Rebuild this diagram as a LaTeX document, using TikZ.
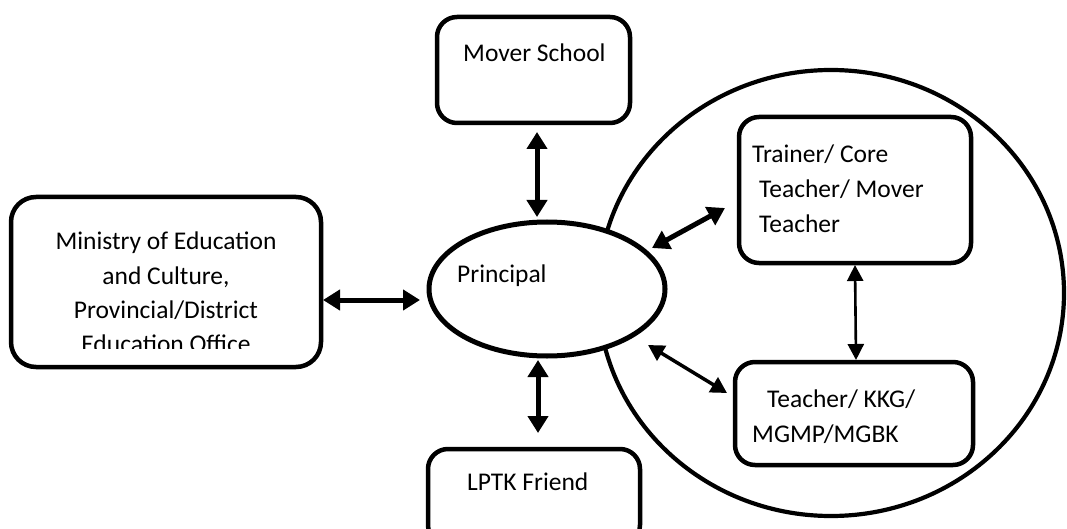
\documentclass[tikz,border=0pt]{standalone}
\usepackage{fontspec}
\setmainfont{Carlito}
\usetikzlibrary{arrows.meta,shapes.geometric}
\begin{document}
\begin{tikzpicture}[x=1pt,y=-1pt,
  box/.style={draw, line width=4.5pt, rounded corners=20pt, fill=white, inner sep=0pt, outer sep=0pt},
  oval/.style={draw, ellipse, inner sep=0pt, outer sep=0pt},
  txt/.style={inner sep=0pt, anchor=base west, font=\fontsize{25.5}{34}\selectfont},
  ctxt/.style={inner sep=0pt, anchor=base, font=\fontsize{25.5}{34}\selectfont},
  bigarr/.style={line width=5pt, {Triangle[length=17pt,width=20pt]}-{Triangle[length=17pt,width=20pt]}},
  midarr/.style={line width=3.5pt, {Triangle[length=16pt,width=17pt]}-{Triangle[length=16pt,width=17pt]}},
  thinarr/.style={line width=2.6pt, {Triangle[length=16pt,width=16pt]}-{Triangle[length=16pt,width=16pt]}}]
\useasboundingbox (0,0) rectangle (1067,529);
% group circle
\node[oval, line width=4.2pt, minimum width=466pt, minimum height=446pt] (grp) at (831,293) {};
% principal
\node[oval, line width=5pt, fill=white, minimum width=236pt, minimum height=134pt] (pr) at (547,289) {};
\node[txt] (prt) at (457,282) {Principal};
% ministry
\node[box, rounded corners=25pt, minimum width=310pt, minimum height=170pt] (min) at (166,282) {};
\begin{scope}
\clip (12,200) rectangle (320,348);
\node[ctxt] (m1) at (166,249) {Ministry of Education};
\node[ctxt] (m2) at (166,284) {and Culture,};
\node[ctxt] (m3) at (166,318) {Provincial/District};
\node[ctxt] (m4) at (166,352) {Education Office};
\end{scope}
% mover school
\node[box, minimum width=193pt, minimum height=106pt] (ms) at (533.5,70) {};
\node[txt] (mst) at (463,62) {Mover School};
% LPTK
\node[box, minimum width=212pt, minimum height=96pt] (lp) at (534,497) {};
\node[txt] (lpt) at (467,490) {LPTK Friend};
% trainer
\node[box, minimum width=232pt, minimum height=146pt] (tr) at (855,190) {};
\node[txt] (tr1) at (752,163) {Trainer/ Core};
\node[txt] (tr2) at (759,198) {Teacher/ Mover};
\node[txt] (tr3) at (759,233) {Teacher};
% teacher
\node[box, minimum width=238pt, minimum height=103pt] (te) at (854,413.5) {};
\node[txt] (te1) at (767,407) {Teacher/ KKG/};
\node[txt] (te2) at (752,442) {MGMP/MGBK};
% connectors
\draw[bigarr] ([xshift=2pt,yshift=-18pt]min.east) -- ([xshift=-9pt,yshift=-11pt]pr.west);
\draw[bigarr] ([xshift=3.5pt,yshift=-9pt]ms.south) -- ([xshift=-10pt,yshift=5pt]pr.north);
\draw[bigarr] ([xshift=-9pt,yshift=-4pt]pr.south) -- ([xshift=4pt,yshift=16pt]lp.north);
\draw[bigarr] ([xshift=105pt,yshift=41pt]pr.center) -- ([xshift=-14pt,yshift=-18pt]tr.west);
\draw[midarr] ([xshift=101pt,yshift=-56pt]pr.center) -- ([xshift=-8pt,yshift=20.5pt]te.west);
\draw[thinarr] ([yshift=-2pt]tr.south) -- ([xshift=2pt,yshift=2pt]te.north);
\end{tikzpicture}
\end{document}
